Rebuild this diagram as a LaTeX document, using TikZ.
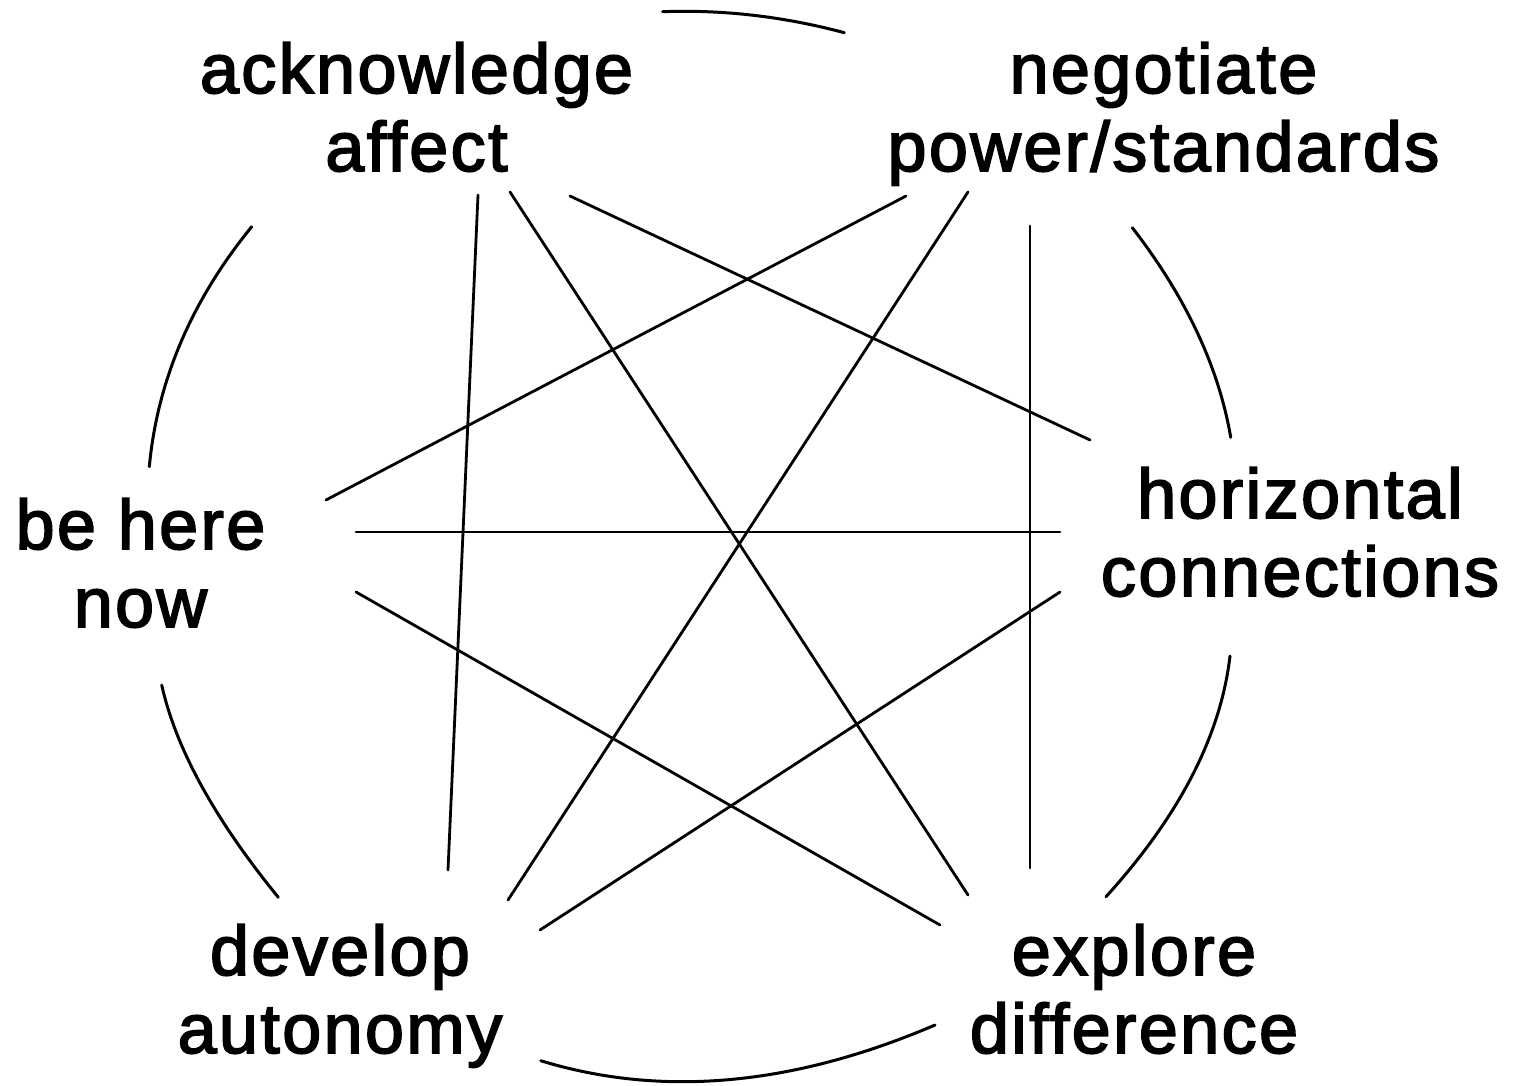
\documentclass[tikz,border=0pt]{standalone}
\usepackage{fontspec}
\setmainfont{Liberation Sans}[LetterSpace=3.5,FakeBold=2.5]
\tikzset{
  lbl/.style={inner sep=0pt, anchor=base, font=\fontsize{35}{39}\selectfont},
  link/.style={line width=1.4pt, line cap=round},
  rim/.style={line width=1.5pt, line cap=round}
}
\newcommand{\twolines}[2]{\begin{tabular}[t]{@{}c@{}}#1\\#2\end{tabular}}
\begin{document}
\begin{tikzpicture}[x=0.5pt,y=-0.5pt]
\useasboundingbox (0,0) rectangle (1514,1086);
\fill[white] (0,0) rectangle (1514,1086);
% labels
\node[lbl] (ack) at (416.5,93) {\twolines{acknowledge}{affect}};
\node[lbl] (neg) at (1163.5,93) {\twolines{negotiate}{power/standards}};
\node[lbl] (bhn) at (140.5,549) {\twolines{be here}{now}};
\node[lbl] (hor) at (1300,518) {\twolines{horizontal}{connections}};
\node[lbl] (dev) at (340,975) {\twolines{develop}{autonomy}};
\node[lbl] (exp) at (1134,975) {\twolines{explore}{difference}};
% connector ends
\coordinate (ackA) at (478,195);
\coordinate (ackB) at (510,192);
\coordinate (ackC) at (570,196);
\coordinate (negA) at (906,196);
\coordinate (negB) at (968,192);
\coordinate (negC) at (1030,226);
\coordinate (bhnA) at (326,500);
\coordinate (bhnB) at (356,532);
\coordinate (bhnC) at (356,592);
\coordinate (horA) at (1090,440);
\coordinate (horB) at (1060,532);
\coordinate (horC) at (1060,592);
\coordinate (devA) at (448,870);
\coordinate (devB) at (508,900);
\coordinate (devC) at (540,930);
\coordinate (expA) at (968,895);
\coordinate (expB) at (1030,868);
\coordinate (expC) at (940,925);
% connectors
\draw[link] (ackA) -- (devA);
\draw[link] (ackB) -- (expA);
\draw[link] (ackC) -- (horA);
\draw[link] (negA) -- (bhnA);
\draw[link] (negB) -- (devB);
\draw[link] (negC) -- (expB);
\draw[link] (bhnB) -- (horB);
\draw[link] (bhnC) -- (expC);
\draw[link] (horC) -- (devC);
% rim arcs
\draw[rim] (662.7,11.7) .. controls (723.2,9.5) and (783.8,16.5) .. (844.3,32.7);
\draw[rim] (251.7,226.7) .. controls (191.6,300.4) and (157.4,380.4) .. (149.3,466.7);
\draw[rim] (161.7,685) .. controls (176.0,748.9) and (214.9,819.6) .. (278.3,897.3);
\draw[rim] (1132.3,227.7) .. controls (1185.8,296.9) and (1218.6,366.8) .. (1230.7,437.3);
\draw[rim] (1230,656) .. controls (1220.7,735.8) and (1179.3,816.0) .. (1106,896.7);
\draw[rim] (540.7,1060.7) .. controls (661.7,1097.7) and (793.1,1085.8) .. (935,1025);
\end{tikzpicture}
\end{document}
